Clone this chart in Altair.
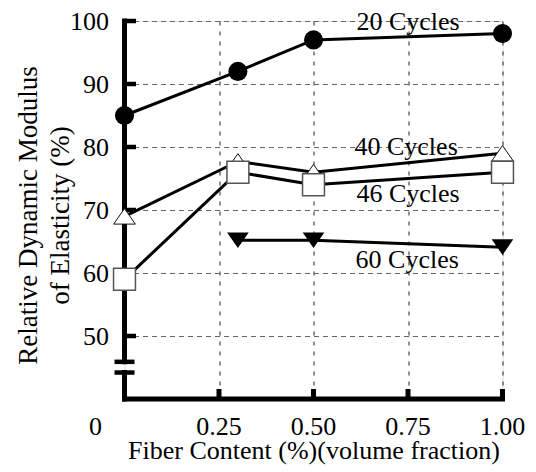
import altair as alt
import pandas as pd

# ---- data ----
SERIES = ["20 Cycles", "40 Cycles", "46 Cycles", "60 Cycles"]
X_20 = [0.0, 0.3, 0.5, 1.0]
Y_20 = [85, 92, 97, 98]
X_40 = [0.0, 0.3, 0.5, 1.0]
Y_40 = [69, 77.7, 76, 79]
X_46 = [0.0, 0.3, 0.5, 1.0]
Y_46 = [59, 76, 74, 76]
X_60 = [0.3, 0.5, 1.0]
Y_60 = [65.2, 65.2, 64.1]

LABEL_X = [0.75, 0.745, 0.75, 0.748]
LABEL_Y = [99.8, 80, 72.5, 62.1]

X_TICKS = [0.25, 0.5, 0.75, 1.0]
X_TICK_LABELS = ["0.25", "0.50", "0.75", "1.00"]
Y_TICKS = [50, 60, 70, 80, 90, 100]
X_DOMAIN = [0.0, 1.0]
Y_DOMAIN = [40, 100]
Y_BREAK = [45.9, 44.2]
ZERO_LABEL = ["0"]

W, H = 378, 378
FONT = "Liberation Serif"

rows = []
for name, xs, ys in zip(SERIES, [X_20, X_40, X_46, X_60], [Y_20, Y_40, Y_46, Y_60]):
    for xv, yv in zip(xs, ys):
        rows.append({"series": name, "x": xv, "y": yv})
df = pd.DataFrame(rows)

xscale = alt.Scale(domain=X_DOMAIN, nice=False, zero=False)
yscale = alt.Scale(domain=Y_DOMAIN, nice=False, zero=False)

x_axis = alt.Axis(
    values=X_TICKS, labels=False, title="Fiber Content (%)(volume fraction)",
)
y_axis = alt.Axis(
    values=Y_TICKS, format="d", title=["Relative Dynamic Modulus", "of Elasticity (%)"],
)

def X(field):
    return alt.X(field, scale=xscale, axis=x_axis)

def Y(field):
    return alt.Y(field, scale=yscale, axis=y_axis)

base = alt.Chart(df)

lines = base.mark_line(color="black", strokeWidth=3).encode(
    x=X("x:Q"), y=Y("y:Q"), detail="series:N", order="x:Q",
)

# axis drawn by hand (inward ticks, broken y axis)
yseg = pd.DataFrame({"a": [Y_DOMAIN[1], Y_BREAK[1]], "b": [Y_BREAK[0], Y_DOMAIN[0]]})
y_axis_line = alt.Chart(yseg).mark_rule(color="black", strokeWidth=5, strokeCap="square").encode(
    x=alt.value(0), y=Y("a:Q"), y2="b:Q"
)
breaks = alt.Chart(pd.DataFrame({"v": Y_BREAK})).mark_rule(color="black", strokeWidth=4.5).encode(
    y=Y("v:Q"), x=alt.value(-10), x2=alt.value(10)
)
xseg = pd.DataFrame({"a": [X_DOMAIN[0]], "b": [X_DOMAIN[1]]})
x_axis_line = alt.Chart(xseg).mark_rule(color="black", strokeWidth=5, strokeCap="square").encode(
    y=alt.value(H), x=X("a:Q"), x2="b:Q"
)
y_ticks = alt.Chart(pd.DataFrame({"v": Y_TICKS})).mark_rule(color="black", strokeWidth=4.5).encode(
    y=Y("v:Q"), x=alt.value(0), x2=alt.value(11.5)
)
x_ticks = alt.Chart(pd.DataFrame({"v": X_TICKS})).mark_rule(color="black", strokeWidth=5).encode(
    x=X("v:Q"), y=alt.value(H), y2=alt.value(H - 10)
)
x_tick_labels = alt.Chart(pd.DataFrame({"v": X_TICKS, "t": X_TICK_LABELS})).mark_text(
    font=FONT, fontSize=26, color="black", align="center", baseline="top"
).encode(text="t:N", x=X("v:Q"), y=alt.value(H + 15))
zero = alt.Chart(pd.DataFrame({"t": ZERO_LABEL})).mark_text(
    font=FONT, fontSize=26, color="black", align="center", baseline="top"
).encode(text="t:N", x=alt.value(-29), y=alt.value(H + 15))

TRI_UP = "M0,-0.72L-1,0.72L1,0.72Z"
TRI_DOWN = "M0,0.72L-1,-0.72L1,-0.72Z"
marker_styles = {
    "20 Cycles": dict(shape="circle", size=363, fill="black", stroke="black", strokeWidth=0),
    "40 Cycles": dict(shape=TRI_UP, size=470, fill="white", stroke="#111", strokeWidth=1),
    "46 Cycles": dict(shape="square", size=480, fill="white", stroke="#555", strokeWidth=1.5),
    "60 Cycles": dict(shape=TRI_DOWN, size=470, fill="black", stroke="black", strokeWidth=0),
}
markers = []
for name in SERIES:
    st = marker_styles[name]
    markers.append(
        base.transform_filter(alt.datum.series == name).mark_point(
            shape=st["shape"], size=st["size"], filled=True, fill=st["fill"],
            stroke=st["stroke"], strokeWidth=st["strokeWidth"], opacity=1,
        ).encode(x=X("x:Q"), y=Y("y:Q"))
    )

lab_df = pd.DataFrame({"t": SERIES, "lx": LABEL_X, "ly": LABEL_Y})
labels = alt.Chart(lab_df).mark_text(
    font=FONT, fontSize=26, color="black", align="center", baseline="middle"
).encode(text="t:N", x=X("lx:Q"), y=Y("ly:Q"))

chart = alt.layer(
    lines, y_axis_line, breaks, x_axis_line, y_ticks, x_ticks, *markers, labels,
    x_tick_labels, zero
).properties(
    width=W, height=H,
    autosize=alt.AutoSizeParams(type="none"),
    padding={"left": 116.5, "top": 13, "right": 25, "bottom": 70},
).configure_view(stroke=None).configure(background="white").configure_axis(
    domain=False, ticks=False, tickSize=0, labelFont=FONT, labelFontSize=26,
    labelColor="black", labelFlush=False, titleFont=FONT, titleFontWeight="normal",
    titleColor="black", grid=True, gridWidth=1, zindex=0,
).configure_axisX(
    gridDash=[4, 6], gridColor="#222", titleFontSize=26, titleY=59,
    titleBaseline="alphabetic",
).configure_axisY(
    gridDash=[5, 4], gridColor="#666", labelPadding=16, labelBaseline="middle",
    labelAlign="right", titleFontSize=27, titleX=-88.5, titleY=194,
    titleBaseline="alphabetic", titleLineHeight=32, titleAlign="center",
)

chart.save("out.html", embed_options={"renderer": "svg", "actions": False})
